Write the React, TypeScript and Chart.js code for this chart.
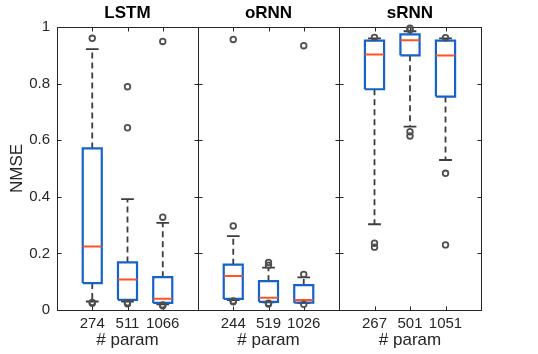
import React, { useEffect, useRef } from "react";
import { Chart, registerables } from "chart.js";
Chart.register(...registerables);

// ---------- data ----------
const panelTitles = ["LSTM", "oRNN", "sRNN"];
const paramLabels = [
  ["274", "511", "1066"],
  ["244", "519", "1026"],
  ["267", "501", "1051"],
];
const yTickValues = [0, 0.2, 0.4, 0.6, 0.8, 1];
const xTickValues = [1, 2, 3];

const lowerWhisker = [
  [0.03, 0.03, 0.02],
  [0.035, 0.027, 0.024],
  [0.303, 0.648, 0.53],
];
const q1 = [
  [0.095, 0.036, 0.025],
  [0.039, 0.029, 0.026],
  [0.78, 0.9, 0.754],
];
const median = [
  [0.224, 0.108, 0.04],
  [0.12, 0.043, 0.035],
  [0.903, 0.953, 0.899],
];
const q3 = [
  [0.571, 0.168, 0.116],
  [0.16, 0.102, 0.088],
  [0.952, 0.974, 0.952],
];
const upperWhisker = [
  [0.922, 0.392, 0.308],
  [0.261, 0.15, 0.115],
  [0.96, 0.985, 0.96],
];
const outliers = [
  [
    [0.96, 0.027, 0.024],
    [0.789, 0.644, 0.026, 0.022],
    [0.949, 0.328, 0.018, 0.015],
  ],
  [
    [0.956, 0.297, 0.032, 0.029],
    [0.168, 0.158, 0.024, 0.021],
    [0.934, 0.126, 0.02],
  ],
  [
    [0.963, 0.236, 0.222],
    [0.99, 0.996, 0.63, 0.615],
    [0.962, 0.483, 0.23],
  ],
];

// ---------- layout / style ----------
const W = 538;
const H = 354;
const panelLeft = [57, 198, 339];
const panelRight = [198, 339, 481];
const FONT = "'Liberation Sans', Arial, Helvetica, sans-serif";
const AXIS_COLOR = "#262626";
const BOX_COLOR = "#1562c9";
const MEDIAN_COLOR = "#ff5326";
const WHISKER_COLOR = "#3c3c3c";
const OUTLIER_COLOR = "#4f4f4f";
const BOX_HALF = 0.27;
const CAP_HALF = 0.18;

type P = { x: number; y: number | null };

function buildPanel(p: number) {
  const whiskers: P[] = [];
  const caps: P[] = [];
  const boxes: P[] = [];
  const medians: P[] = [];
  const outs: P[] = [];
  for (let i = 0; i < 3; i++) {
    const x = xTickValues[i];
    whiskers.push(
      { x, y: q3[p][i] }, { x, y: upperWhisker[p][i] }, { x, y: null },
      { x, y: q1[p][i] }, { x, y: lowerWhisker[p][i] }, { x, y: null }
    );
    caps.push(
      { x: x - CAP_HALF, y: upperWhisker[p][i] }, { x: x + CAP_HALF, y: upperWhisker[p][i] }, { x, y: null },
      { x: x - CAP_HALF, y: lowerWhisker[p][i] }, { x: x + CAP_HALF, y: lowerWhisker[p][i] }, { x, y: null }
    );
    boxes.push(
      { x: x - BOX_HALF, y: q1[p][i] }, { x: x + BOX_HALF, y: q1[p][i] },
      { x: x + BOX_HALF, y: q3[p][i] }, { x: x - BOX_HALF, y: q3[p][i] },
      { x: x - BOX_HALF, y: q1[p][i] }, { x, y: null }
    );
    medians.push(
      { x: x - BOX_HALF, y: median[p][i] }, { x: x + BOX_HALF, y: median[p][i] }, { x, y: null }
    );
    outliers[p][i].forEach((v) => outs.push({ x, y: v }));
  }
  return { whiskers, caps, boxes, medians, outs };
}

const framePlugin = {
  id: "frame",
  beforeDatasetsDraw(chart: any) {
    const { ctx, chartArea: a, scales } = chart;
    const x = scales.x;
    const y = scales.y;
    ctx.save();
    ctx.strokeStyle = AXIS_COLOR;
    ctx.lineWidth = 1;
    const l = Math.round(a.left) + 0.5;
    const r = Math.round(a.right) + 0.5;
    const t = Math.round(a.top) + 0.5;
    const b = Math.round(a.bottom) + 0.5;
    ctx.strokeRect(l, t, r - l, b - t);
    ctx.beginPath();
    yTickValues.forEach((v) => {
      const py = Math.round(y.getPixelForValue(v)) + 0.5;
      ctx.moveTo(l, py);
      ctx.lineTo(l + 4, py);
      ctx.moveTo(r, py);
      ctx.lineTo(r - 4, py);
    });
    xTickValues.forEach((v) => {
      const px = Math.round(x.getPixelForValue(v)) + 0.5;
      ctx.moveTo(px, t);
      ctx.lineTo(px, t + 4);
      ctx.moveTo(px, b);
      ctx.lineTo(px, b - 4);
    });
    ctx.stroke();
    ctx.restore();
  },
};

function makeConfig(p: number): any {
  const d = buildPanel(p);
  const lineBase = {
    pointRadius: 0,
    pointHoverRadius: 0,
    tension: 0,
    spanGaps: false,
    fill: false,
  };
  return {
    type: "line",
    data: {
      datasets: [
        {
          ...lineBase,
          data: d.outs,
          showLine: false,
          pointRadius: 2.8,
          pointStyle: "circle",
          pointBorderWidth: 1.8,
          pointBorderColor: OUTLIER_COLOR,
          pointBackgroundColor: "rgba(0,0,0,0)",
          borderColor: OUTLIER_COLOR,
          clip: false,
          order: 0,
        },
        {
          ...lineBase,
          data: d.medians,
          borderColor: MEDIAN_COLOR,
          borderWidth: 2,
          borderCapStyle: "butt",
          order: 1,
        },
        {
          ...lineBase,
          data: d.boxes,
          borderColor: BOX_COLOR,
          borderWidth: 2.2,
          borderJoinStyle: "miter",
          clip: false,
          order: 2,
        },
        {
          ...lineBase,
          data: d.caps,
          borderColor: WHISKER_COLOR,
          borderWidth: 1.8,
          clip: false,
          order: 3,
        },
        {
          ...lineBase,
          data: d.whiskers,
          borderColor: WHISKER_COLOR,
          borderWidth: 1.8,
          borderDash: [6, 4],
          borderCapStyle: "butt",
          clip: false,
          order: 4,
        },
      ],
    },
    options: {
      animation: false,
      responsive: false,
      maintainAspectRatio: false,
      events: [],
      layout: {
        padding: {
          left: p === 0 ? 0 : panelLeft[p],
          right: W - panelRight[p],
          top: 0,
          bottom: 0,
        },
      },
      plugins: {
        legend: { display: false },
        tooltip: { enabled: false },
        title: {
          display: true,
          text: panelTitles[p],
          fullSize: false,
          color: "#000",
          font: { family: FONT, size: 17, weight: "bold", lineHeight: 1.2 },
          padding: { top: 3, bottom: 3.6 },
        },
      },
      scales: {
        x: {
          type: "linear",
          min: 0,
          max: 4,
          afterBuildTicks: (s: any) => {
            s.ticks = xTickValues.map((v) => ({ value: v }));
          },
          afterFit: (s: any) => {
            s.height = 44;
          },
          ticks: {
            autoSkip: false,
            maxRotation: 0,
            padding: 5,
            color: AXIS_COLOR,
            font: { family: FONT, size: 15 },
            callback: (_v: any, i: number) => paramLabels[p][i],
          },
          grid: { display: false, drawTicks: false },
          border: { display: false },
          title: {
            display: true,
            text: "# param",
            color: AXIS_COLOR,
            font: { family: FONT, size: 17, lineHeight: 1.2 },
            padding: { top: 0, bottom: 3 },
          },
        },
        y: {
          type: "linear",
          min: 0,
          max: 1,
          display: p === 0,
          afterBuildTicks: (s: any) => {
            s.ticks = yTickValues.map((v) => ({ value: v }));
          },
          afterFit: (s: any) => {
            s.width = p === 0 ? panelLeft[0] : 0;
          },
          ticks: {
            padding: 7,
            color: AXIS_COLOR,
            font: { family: FONT, size: 15 },
            callback: (v: any) => String(v),
          },
          grid: { display: false, drawTicks: false },
          border: { display: false },
          title: {
            display: true,
            text: "NMSE",
            color: AXIS_COLOR,
            font: { family: FONT, size: 17, lineHeight: 1.2 },
            padding: { top: 7, bottom: 0 },
          },
        },
      },
    },
    plugins: [framePlugin],
  };
}

function Panel({ p }: { p: number }) {
  const ref = useRef<HTMLCanvasElement | null>(null);
  useEffect(() => {
    if (!ref.current) return;
    const chart = new Chart(ref.current, makeConfig(p));
    return () => chart.destroy();
  }, [p]);
  return (
    <canvas
      ref={ref}
      width={W}
      height={H}
      style={{ position: "absolute", left: 0, top: 0, width: W, height: H, display: "block" }}
    />
  );
}

export default function App() {
  return (
    <div
      style={{
        position: "fixed",
        left: 0,
        top: 0,
        width: W,
        height: H,
        background: "#fff",
        overflow: "hidden",
      }}
    >
      {[0, 1, 2].map((p) => (
        <Panel key={p} p={p} />
      ))}
    </div>
  );
}
